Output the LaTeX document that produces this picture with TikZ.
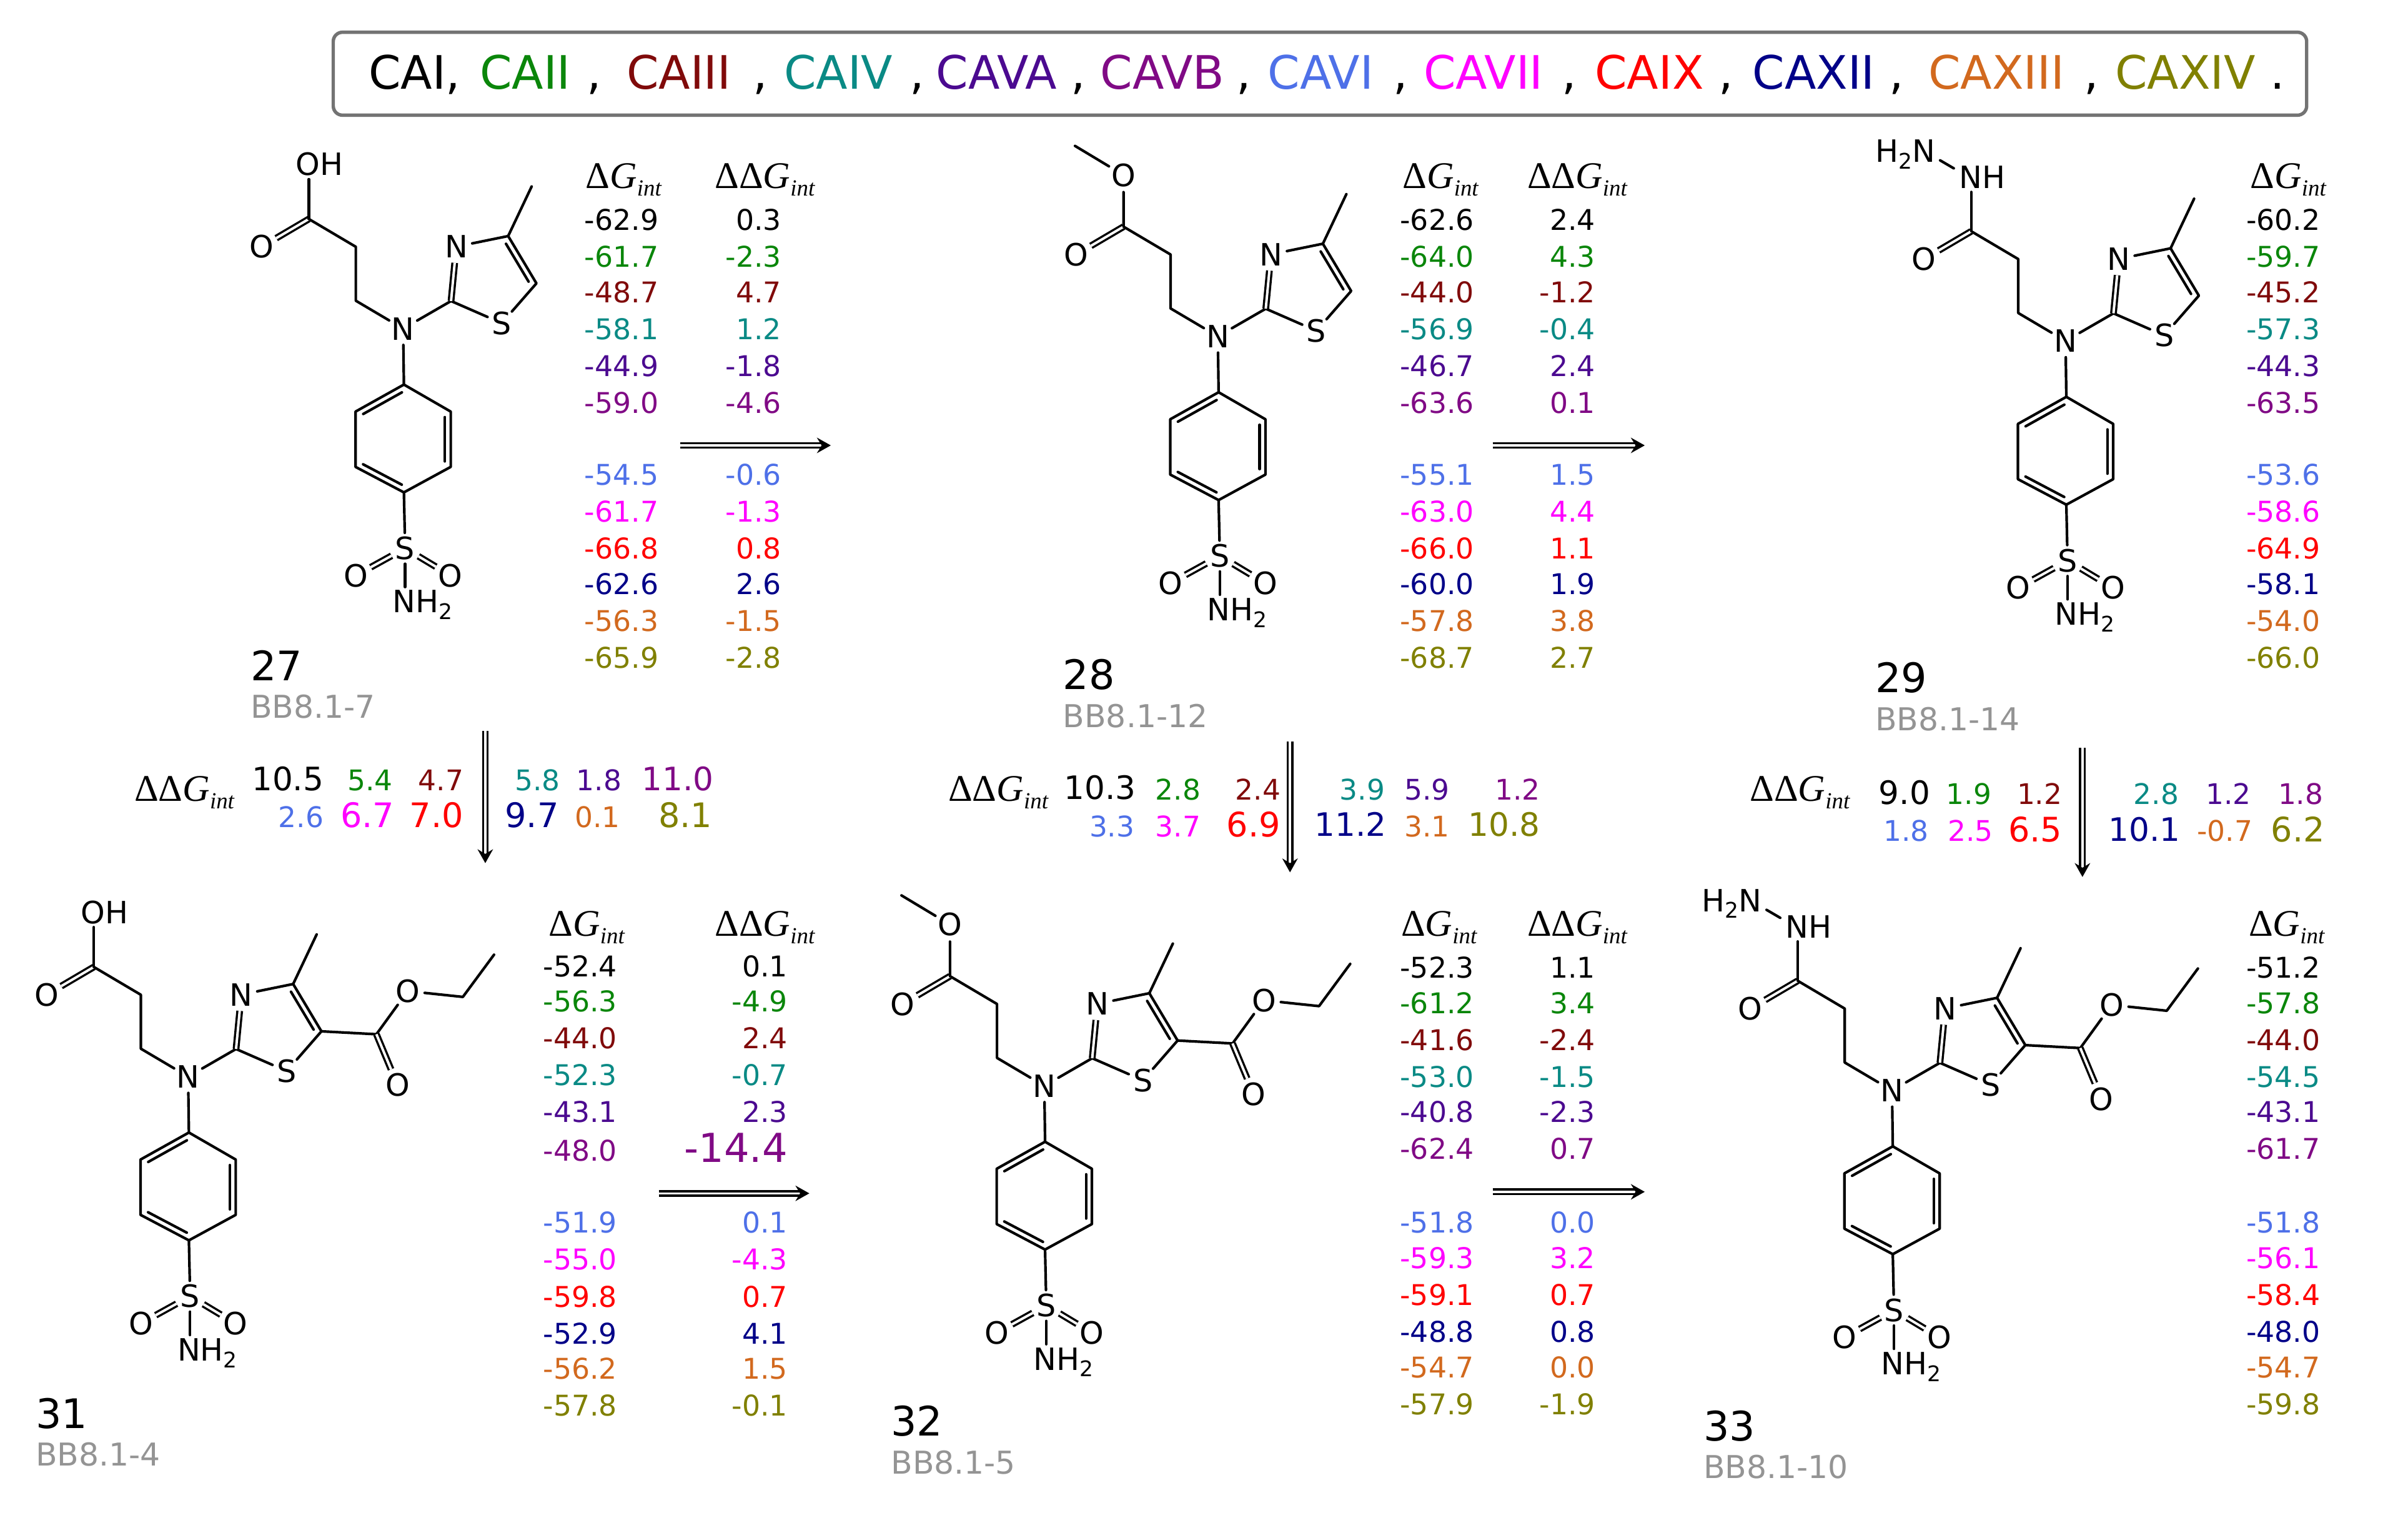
\documentclass[tikz,border=0pt]{standalone}
\usepackage{fontspec}
\setmainfont{DejaVu Sans}
\newfontfamily\lserif{Liberation Serif}
\usetikzlibrary{calc,arrows.meta}
\definecolor{c1}{HTML}{000000}
\definecolor{c2}{HTML}{0A860A}
\definecolor{c3}{HTML}{800A0A}
\definecolor{c4}{HTML}{0A8A85}
\definecolor{c5}{HTML}{4B0A90}
\definecolor{c6}{HTML}{800A85}
\definecolor{c7}{HTML}{4E70E8}
\definecolor{c8}{HTML}{FF00FF}
\definecolor{c9}{HTML}{FF0000}
\definecolor{c10}{HTML}{000088}
\definecolor{c11}{HTML}{D2691E}
\definecolor{c12}{HTML}{808000}
\newcommand\fs[1]{\fontsize{#1}{#1}\selectfont}
\newcommand\gint{{\lserif\itshape G\raisebox{-.2em}{\fs{15}int}}}
\newcommand\dG{{\lserif Δ}\gint}
\newcommand\ddG{{\lserif ΔΔ}\gint}
\newcommand\subtwo{\raisebox{-.22em}{\fs{14}2}}
\tikzset{
  x=1pt,y=-1pt,
  bond/.style={line width=1.7pt,line cap=round,line join=round},
  dbond/.style={line width=1.4pt,double,double distance=1.6pt},
  atom/.style={circle,inner sep=0pt,font=\fs{20}},
  label atom/.style={rectangle,inner sep=2pt,anchor=base,font=\fs{20}},
  num/.style={inner sep=0pt,anchor=base east,font=\fs{18.6}},
  head/.style={inner sep=0pt,anchor=center,font=\fs{24.5}},
  cpd/.style={inner sep=0pt,anchor=base west,font=\fs{26.5}},
  code/.style={inner sep=0pt,anchor=base west,font=\fs{20.5},text=black!42},
  hdr/.style={inner sep=0pt,anchor=center,font=\fs{30}},
  big arrow/.style={line width=1.5pt,double,double distance=1.4pt,-{Stealth[length=9pt,width=10pt,inset=3pt]}},
}
% inner parallel line of a double bond, on the left of a->b
\newcommand\innerl[2]{\draw[bond] ($(#1)!.1!(#2)!3.8pt!90:(#2)$) -- ($(#1)!.9!(#2)!3.8pt!90:(#2)$);}
% common core: prefix #1, N position (#2,#3)
\newcommand\core[3]{%
 \begin{scope}[shift={(#2,#3)}]
  \node[atom] (#1N) at (0,0) {N};
  \coordinate (#1a) at (-30.8,-53.3);
  \coordinate (#1b) at (-30.8,-18.2);
  \coordinate (#1c) at (-61.4,-71.4);
  \node[atom] (#1dO) at (-92.2,-53.3) {O};
  \coordinate (#1c2) at (31.2,-18);
  \node[atom] (#1n3) at (34.6,-53.4) {N};
  \coordinate (#1c4) at (68.4,-60.3);
  \coordinate (#1c5) at (86.8,-29.5);
  \node[atom] (#1s1) at (64.2,-3.6) {S};
  \coordinate (#1me) at (83.7,-92.6);
  \coordinate (#1r1) at (.5,36.4);
  \coordinate (#1r2) at (31,54);
  \coordinate (#1r3) at (31,90);
  \coordinate (#1r4) at (.5,106.6);
  \coordinate (#1r5) at (-31,90);
  \coordinate (#1r6) at (-31,54);
  \node[atom] (#1S) at (1.3,143) {S};
  \node[atom] (#1o1) at (-30.8,160.7) {O};
  \node[atom] (#1o2) at (30.8,160.7) {O};
  \node[label atom] (#1nh) at (12.5,185) {NH\subtwo};
  \draw[bond] (#1N) -- (#1b) -- (#1a) -- (#1c);
  \draw[dbond] (#1c) -- (#1dO);
  \draw[bond] (#1N) -- (#1c2) -- (#1s1) -- (#1c5) -- (#1c4) -- (#1n3);
  \draw[dbond] (#1c2) -- (#1n3);
  \draw[bond] (#1c4) -- (#1me);
  \innerl{#1c5}{#1c4}
  \draw[bond] (#1N) -- (#1r1);
  \draw[bond] (#1r1) -- (#1r2) -- (#1r3) -- (#1r4) -- (#1r5) -- (#1r6) -- cycle;
  \innerl{#1r1}{#1r6}
  \innerl{#1r3}{#1r2}
  \innerl{#1r5}{#1r4}
  \draw[bond] (#1r4) -- (#1S);
  \draw[dbond] (#1S) -- (#1o1);
  \draw[dbond] (#1S) -- (#1o2);
  \draw[bond] (#1S) -- (#1S |- #1nh.north);
 \end{scope}}
\newcommand\acid[3]{%
 \begin{scope}[shift={(#2,#3)}]
  \node[label atom] (#1oh) at (-54.5,-99.8) {OH};
  \draw[bond] (#1c) -- (#1c |- #1oh.south);
 \end{scope}}
\newcommand\mester[3]{%
 \begin{scope}[shift={(#2,#3)}]
  \node[atom] (#1om) at (-61.4,-105) {O};
  \coordinate (#1mm) at (-93,-124);
  \draw[bond] (#1c) -- (#1om) -- (#1mm);
 \end{scope}}
\newcommand\hydra[3]{%
 \begin{scope}[shift={(#2,#3)}]
  \node[label atom] (#1hn) at (-54.2,-99.2) {NH};
  \node[label atom] (#1hh) at (-104.4,-116.5) {H\subtwo N};
  \coordinate (#1h1) at (-81.7,-117.6);
  \coordinate (#1h2) at (-72.8,-112.4);
  \draw[bond] (#1c) -- (#1c |- #1hn.south);
  \draw[bond] (#1h1) -- (#1h2);
 \end{scope}}
\newcommand\ester[3]{%
 \begin{scope}[shift={(#2,#3)}]
  \coordinate (#1ec) at (122.6,-27.6);
  \node[atom] (#1eo) at (136.4,5.5) {O};
  \node[atom] (#1es) at (143,-55.7) {O};
  \coordinate (#1ch) at (178.9,-51.9);
  \coordinate (#1cm) at (199.2,-79.4);
  \draw[bond] (#1c5) -- (#1ec) -- (#1es) -- (#1ch) -- (#1cm);
  \draw[dbond] (#1ec) -- (#1eo);
 \end{scope}}
% value column: name, right x, y/value list, colours follow the count
\newcommand\tcol[3]{\foreach[count=\i] \yy/\vv in {#3}{\node[num,text=c\i] (#1-\i) at (#2,\yy+6.9) {\vv};}}
\newcommand\cpdlabel[5]{\node[cpd] (#1) at (#3,#4) {#2};\node[code] (#1code) at (#3,#4+24.5) {#5};}
\begin{document}
\begin{tikzpicture}
\useasboundingbox (0,0) rectangle (1568,985);
% top box
\node[draw=black!55,line width=2.2pt,rounded corners=6pt,minimum width=1285pt,minimum height=54pt,inner sep=0pt] (legend) at (859.5,48) {};
\foreach[count=\i] \cc/\xx/\tt in {c1/270/{CAI,},c2/342/CAII,c1/387/{,},c3/442/CAIII,c1/495/{,},c4/546/CAIV,c1/597/{,},c5/649/CAVA,c1/702/{,},c6/757/CAVB,c1/810/{,},c7/860/CAVI,c1/912/{,},c8/966/CAVII,c1/1022/{,},c9/1074/CAIX,c1/1124/{,},c10/1181/CAXII,c1/1235/{,},c11/1300/CAXIII,c1/1362/{,},c12/1423/CAXIV,c1/1483/.}
  {\node[hdr,text=\cc,anchor=base] (leg\i) at (\xx,58) {\tt};}
% molecules
\core{A}{262.5}{214}\acid{A}{262.5}{214}
\core{B}{793}{219}\mester{B}{793}{219}
\core{C}{1345}{222}\hydra{C}{1345}{222}
\core{D}{122.5}{701}\acid{D}{122.5}{701}\ester{D}{122.5}{701}
\core{E}{680}{707}\mester{E}{680}{707}\ester{E}{680}{707}
\core{F}{1232}{710}\hydra{F}{1232}{710}\ester{F}{1232}{710}
% labels
\cpdlabel{n27}{27}{163}{443}{BB8.1-7}
\cpdlabel{n28}{28}{692}{449}{BB8.1-12}
\cpdlabel{n29}{29}{1221}{451}{BB8.1-14}
\cpdlabel{n31}{31}{23}{930}{BB8.1-4}
\cpdlabel{n32}{32}{580}{935}{BB8.1-5}
\cpdlabel{n33}{33}{1109}{938}{BB8.1-10}
% headers
\node[head] (hA1) at (406,117) {\dG};
\node[head] (hA2) at (498,117) {\ddG};
\node[head] (hB1) at (938,117) {\dG};
\node[head] (hB2) at (1027,117) {\ddG};
\node[head] (hC1) at (1490,117) {\dG};
\node[head] (hD1) at (382,604) {\dG};
\node[head] (hD2) at (498,604) {\ddG};
\node[head] (hE1) at (937,604) {\dG};
\node[head] (hE2) at (1027,604) {\ddG};
\node[head] (hF1) at (1489,604) {\dG};
\node[head] (hrA) at (120,516) {\ddG};
\node[head] (hrB) at (650,516) {\ddG};
\node[head] (hrC) at (1172,516) {\ddG};
% tables
\tcol{ta}{429}{143/-62.9,167/-61.7,190/-48.7,214/-58.1,238/-44.9,262/-59.0,309/-54.5,333/-61.7,357/-66.8,380/-62.6,404/-56.3,428/-65.9}
\tcol{tb}{509}{143/0.3,167/-2.3,190/4.7,214/1.2,238/-1.8,262/-4.6,309/-0.6,333/-1.3,357/0.8,380/2.6,404/-1.5,428/-2.8}
\tcol{tc}{960}{143/-62.6,167/-64.0,190/-44.0,214/-56.9,238/-46.7,262/-63.6,309/-55.1,333/-63.0,357/-66.0,380/-60.0,404/-57.8,428/-68.7}
\tcol{td}{1039}{143/2.4,167/4.3,190/-1.2,214/-0.4,238/2.4,262/0.1,309/1.5,333/4.4,357/1.1,380/1.9,404/3.8,428/2.7}
\tcol{te}{1511}{143/-60.2,167/-59.7,190/-45.2,214/-57.3,238/-44.3,262/-63.5,309/-53.6,333/-58.6,357/-64.9,380/-58.1,404/-54.0,428/-66.0}
\tcol{tf}{402}{629/-52.4,652/-56.3,676/-44.0,700/-52.3,724/-43.1,749/-48.0,796/-51.9,820/-55.0,844/-59.8,868/-52.9,891/-56.2,915/-57.8}
\tcol{tg}{513}{629/0.1,652/-4.9,676/2.4,700/-0.7,724/2.3,750/{\fs{26}-14.4},796/0.1,820/-4.3,844/0.7,868/4.1,891/1.5,915/-0.1}
\tcol{th}{960}{630/-52.3,653/-61.2,677/-41.6,701/-53.0,724/-40.8,748/-62.4,796/-51.8,819/-59.3,843/-59.1,867/-48.8,890/-54.7,914/-57.9}
\tcol{ti}{1039}{630/1.1,653/3.4,677/-2.4,701/-1.5,724/-2.3,748/0.7,796/0.0,819/3.2,843/0.7,867/0.8,890/0.0,914/-1.9}
\tcol{tj}{1511}{630/-51.2,653/-57.8,677/-44.0,701/-54.5,724/-43.1,748/-61.7,796/-51.8,819/-56.1,843/-58.4,867/-48.0,890/-54.7,914/-59.8}
% between-row values
\foreach[count=\i] \cc/\xx/\yy/\ss/\vv in {
 c1/211/507/21/10.5,c2/256/508/18.5/5.4,c3/302/508/18.5/4.7,c4/365/508/18.5/5.8,c5/405/508/18.5/1.8,c6/465/507/21/11.0,
 c7/211/532/18.5/2.6,c8/257/531/22/6.7,c9/302/531/22/7.0,c10/364/531/22/9.7,c11/404/532/18.5/0.1,c12/464/531/22/8.1,
 c1/740/513/21/10.3,c2/782/514/18.5/2.8,c3/834/514/18.5/2.4,c4/902/514/18.5/3.9,c5/944/514/18.5/5.9,c6/1003/514/18.5/1.2,
 c7/739/538/18.5/3.3,c8/782/538/18.5/3.7,c9/834/537/22/6.9,c10/903/537/21/11.2,c11/944/538/18.5/3.1,c12/1003/537/21/10.8,
 c1/1257/516/21/9.0,c2/1297/517/18.5/1.9,c3/1343/517/18.5/1.2,c4/1419/517/18.5/2.8,c5/1466/517/18.5/1.2,c6/1513/517/18.5/1.8,
 c7/1256/541/18.5/1.8,c8/1298/541/18.5/2.5,c9/1343/540/22/6.5,c10/1420/540/21/10.1,c11/1467/541/18.5/-0.7,c12/1514/540/22/6.2}
 {\node[num,text=\cc,font=\fs{\ss}] (dd\i) at (\xx,\yy+.36*\ss) {\vv};}
% arrows
\coordinate (p1) at (443,290); \coordinate (q1) at (541,290);
\coordinate (p2) at (972,290); \coordinate (q2) at (1071,290);
\coordinate (p3) at (429,777); \coordinate (q3) at (527,777);
\coordinate (p4) at (972,776); \coordinate (q4) at (1071,776);
\coordinate (p5) at (316,476); \coordinate (q5) at (316,562);
\coordinate (p6) at (840,483); \coordinate (q6) at (840,568);
\coordinate (p7) at (1356,487); \coordinate (q7) at (1356,571);
\foreach \i in {1,...,7}{\draw[big arrow] (p\i) -- (q\i);}
\end{tikzpicture}
\end{document}
